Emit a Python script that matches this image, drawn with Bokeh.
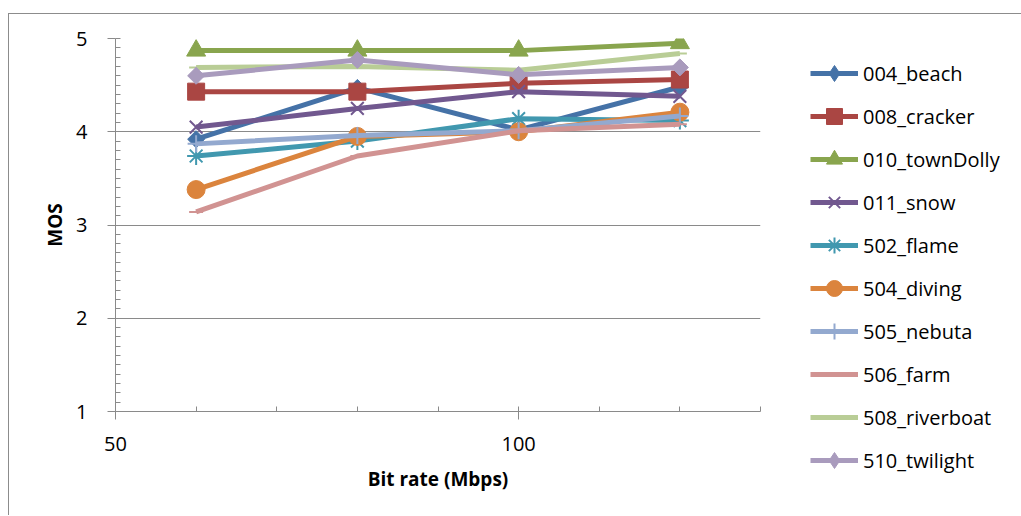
import math
from bokeh.plotting import figure
from bokeh.models import SingleIntervalTicker, Legend, LegendItem, Range1d
from bokeh.embed import file_html
from bokeh.resources import INLINE

# ---- data ----
bitrate = [60, 80, 100, 120]
series_names = ["004_beach", "008_cracker", "010_townDolly", "011_snow", "502_flame",
                "504_diving", "505_nebuta", "506_farm", "508_riverboat", "510_twilight"]
beach = [3.92, 4.47, 4.02, 4.48]
cracker = [4.43, 4.43, 4.52, 4.56]
townDolly = [4.87, 4.87, 4.87, 4.95]
snow = [4.05, 4.25, 4.43, 4.38]
flame = [3.74, 3.90, 4.14, 4.12]
diving = [3.38, 3.95, 4.00, 4.21]
nebuta = [3.87, 3.96, 4.01, 4.17]
farm = [3.14, 3.74, 4.01, 4.08]
riverboat = [4.69, 4.70, 4.66, 4.84]
twilight = [4.60, 4.77, 4.61, 4.69]
series_values = [beach, cracker, townDolly, snow, flame, diving, nebuta, farm, riverboat, twilight]

colors = ["#4572A7", "#AA4643", "#89A54E", "#71588F", "#4198AF",
          "#DB843D", "#93A9CF", "#D19392", "#B9CD96", "#A99BBD"]
markers = [("diamond", 12), ("square", 17), ("triangle", 19), ("x", 18),
           ("asterisk", 18), ("circle", 18), ("cross", 17), ("dash", 14),
           ("dash", 14), ("diamond", 12)]

FONT = "Open Sans"
GRID = "#8a8a8a"

p = figure(frame_width=645, frame_height=373,
           min_border_left=106, min_border_right=260, min_border_top=24, min_border_bottom=104,
           x_range=Range1d(50, 130), y_range=Range1d(1, 5),
           output_backend="svg", toolbar_location=None)
p.margin = (13, 0, 0, 8)
p.styles = {"border-top": "1px solid #8c8c8c", "border-left": "1px solid #8c8c8c"}
p.outline_line_color = None
p.background_fill_color = "white"
p.border_fill_color = "white"

p.xaxis.ticker = SingleIntervalTicker(interval=50, num_minor_ticks=5)
p.yaxis.ticker = SingleIntervalTicker(interval=1, num_minor_ticks=10)
p.xgrid.grid_line_color = None
p.ygrid.grid_line_color = GRID
p.ygrid.grid_line_width = 1

for ax in (p.xaxis[0], p.yaxis[0]):
    ax.axis_line_color = GRID
    ax.major_tick_line_color = GRID
    ax.minor_tick_line_color = GRID
    ax.major_tick_in = 0
    ax.major_tick_out = 8
    ax.minor_tick_in = 5
    ax.minor_tick_out = 0
    ax.major_label_text_font = FONT
    ax.major_label_text_font_size = "20px"
    ax.major_label_text_color = "black"
    ax.axis_label_text_font = FONT
    ax.axis_label_text_font_size = "19px"
    ax.axis_label_text_font_style = "bold"
    ax.axis_label_text_color = "black"

p.xaxis.axis_label = "Bit rate (Mbps)"
p.yaxis.axis_label = "MOS"
p.xaxis.major_label_standoff = 17
p.xaxis.axis_label_standoff = 12
p.yaxis.major_label_standoff = 20
p.yaxis.axis_label_standoff = 5

items = []
for name, vals, col, (mk, sz) in zip(series_names, series_values, colors, markers):
    lr = p.line(bitrate, vals, line_color=col, line_width=5)
    if mk in ("x", "asterisk", "cross", "dash"):
        sr = p.scatter(bitrate, vals, marker=mk, size=sz, line_color=col, line_width=2,
                       fill_color=None)
        legend_r = sr
    elif mk == "diamond":
        # a diamond drawn as a square turned by 45 degrees, as in the reference
        sr = p.scatter(bitrate, vals, marker="square", size=sz, angle=math.pi / 4,
                       fill_color=col, line_color=col, line_width=1)
        legend_r = p.scatter([float("nan")], [float("nan")], marker="diamond", size=sz,
                             fill_color=col, line_color=col, line_width=1)
    else:
        sr = p.scatter(bitrate, vals, marker=mk, size=sz, fill_color=col,
                       line_color=col, line_width=1)
        legend_r = sr
    items.append(LegendItem(label=name, renderers=[lr, legend_r]))

legend = Legend(items=items, location=(50, -69), orientation="vertical",
                glyph_width=48, glyph_height=40, label_height=40, spacing=3,
                padding=0, margin=0, label_standoff=5,
                label_text_font=FONT, label_text_font_size="20px", label_text_color="black",
                border_line_color=None, background_fill_alpha=0)
p.add_layout(legend, "right")

open("out.html", "w").write(file_html(p, INLINE))
